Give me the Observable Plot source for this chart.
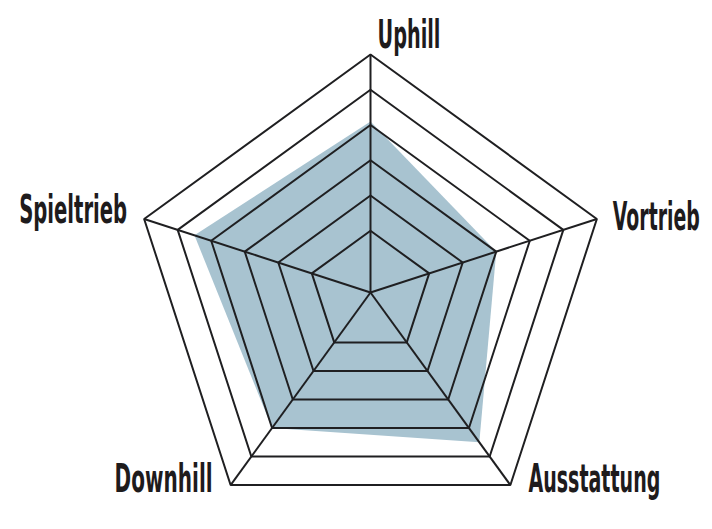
<!DOCTYPE html>
<html><head><meta charset="utf-8">
<script src="https://cdn.jsdelivr.net/npm/d3@7"></script>
<script src="https://cdn.jsdelivr.net/npm/@observablehq/plot@0.6"></script>
<style>html,body{margin:0;padding:0;background:#fff} #chart svg{display:block}</style>
</head><body><div id="chart"></div>
<script>
// ---- data ----
const axes = ["Uphill", "Vortrieb", "Ausstattung", "Downhill", "Spieltrieb"];
const scores = [4.1, 3.0, 4.5, 4.0, 4.5];
const ringLevels = [1, 2, 3, 4, 5, 6];

// ---- layout ----
const W = 712, H = 529, CX = 370, CY = 292, R = 238;
const maxLevel = d3.max(ringLevels);
const radial = d3.scaleLinear().domain([-0.75, maxLevel]).range([0, maxLevel + 0.75]);
const k = R / radial(maxLevel); // px per unit
const ang = i => i * 2 * Math.PI / axes.length;
const px = (i, v) => radial(v) * Math.sin(ang(i));
const py = (i, v) => radial(v) * Math.cos(ang(i));

const ringPts = ringLevels.flatMap(l => axes.map((a, i) => ({level: l, x: px(i, l), y: py(i, l)})));
const shape = axes.map((a, i) => ({axis: a, x: px(i, scores[i]), y: py(i, scores[i])}));
const spokes = axes.map((a, i) => ({axis: a, x2: px(i, maxLevel), y2: py(i, maxLevel)}));
const labelPts = axes.map((a, i) => ({axis: a, x: px(i, maxLevel), y: py(i, maxLevel)}));

const labelStyle = {
  "Uphill":      {anchor: "start", dx: 7,   dy: -7,  w: 63},
  "Vortrieb":    {anchor: "start", dx: 16,  dy: 11,  w: 87},
  "Ausstattung": {anchor: "start", dx: 18,  dy: 7,   w: 132},
  "Downhill":    {anchor: "end",   dx: -18, dy: 7,   w: 98},
  "Spieltrieb":  {anchor: "end",   dx: -17, dy: 4.5, w: 108}
};

const lineColor = "#1f1f21";
const fillColor = "#a8c3d0";
const font = "'Liberation Sans Narrow', 'DejaVu Sans Condensed', 'Liberation Sans', sans-serif";

const chart = Plot.plot({
  width: W, height: H, margin: 0,
  x: {domain: [-CX / k, (W - CX) / k], axis: null},
  y: {domain: [-(H - CY) / k, CY / k], axis: null},
  marks: [
    Plot.line(shape, {x: "x", y: "y", curve: "linear-closed", fill: fillColor, stroke: "none"}),
    Plot.line(ringPts, {x: "x", y: "y", z: "level", curve: "linear-closed", stroke: lineColor, strokeWidth: 2, strokeLinejoin: "miter", fill: "none"}),
    Plot.link(spokes, {x1: () => 0, y1: () => 0, x2: "x2", y2: "y2", stroke: lineColor, strokeWidth: 2}),
    ...labelPts.map(d => {
      const s = labelStyle[d.axis];
      return Plot.text([d], {x: "x", y: "y", text: "axis", textAnchor: s.anchor, lineAnchor: "bottom",
        dx: s.dx, dy: s.dy, fontSize: 39, fontWeight: "bold", fontFamily: font, fill: "#1e1b1c"});
    })
  ]
});

document.getElementById("chart").appendChild(chart);

// compress the label glyphs horizontally to the condensed width of the original
chart.querySelectorAll("text").forEach(t => {
  const s = labelStyle[t.textContent];
  if (s) {
    const natural = t.getComputedTextLength();
    const sx = natural > 0 ? s.w / natural : 1;
    const tr = t.getAttribute("transform") || "";
    t.setAttribute("transform", `${tr} scale(${sx.toFixed(4)},1)`);
  }
});
</script>
</body></html>
